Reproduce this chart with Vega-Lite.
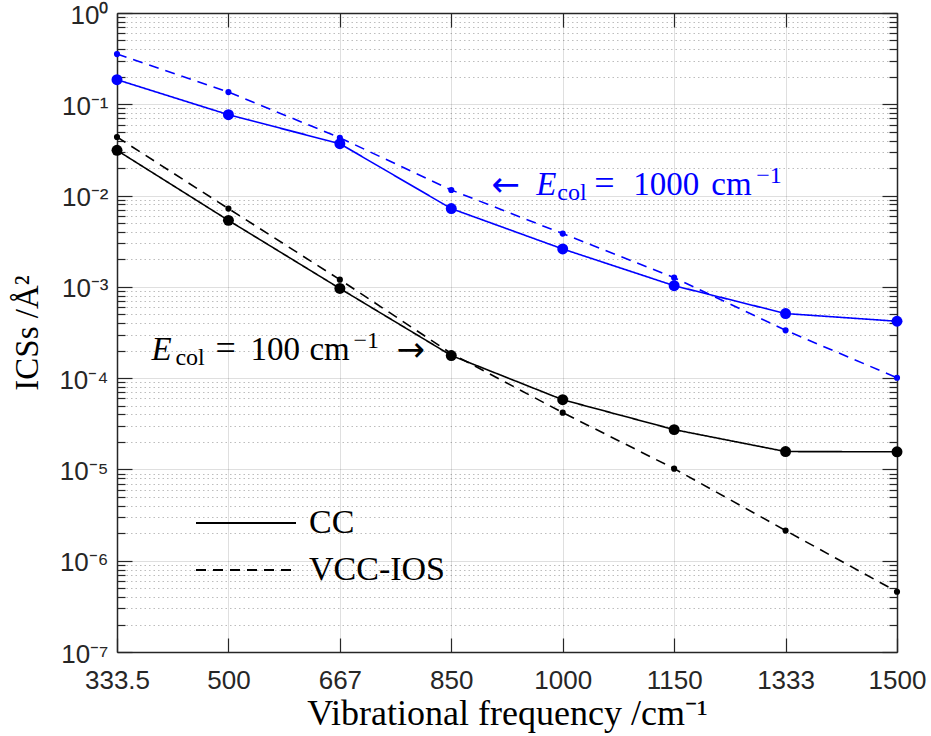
{
  "$schema": "https://vega.github.io/schema/vega-lite/v6.json",
  "width": 780,
  "height": 639,
  "autosize": {"type": "none"},
  "padding": {"left": 117, "top": 13, "right": 34, "bottom": 84},
  "background": "white",
  "datasets": {
    "series": [
      {"freq": 333.5, "method": "CC", "energy": "1000", "ics": 0.186},
      {"freq": 500, "method": "CC", "energy": "1000", "ics": 0.0769},
      {"freq": 667, "method": "CC", "energy": "1000", "ics": 0.037},
      {"freq": 850, "method": "CC", "energy": "1000", "ics": 0.0072},
      {"freq": 1000, "method": "CC", "energy": "1000", "ics": 0.0026},
      {"freq": 1150, "method": "CC", "energy": "1000", "ics": 0.00103},
      {"freq": 1333, "method": "CC", "energy": "1000", "ics": 0.00051},
      {"freq": 1500, "method": "CC", "energy": "1000", "ics": 0.00042},
      {"freq": 333.5, "method": "VCC-IOS", "energy": "1000", "ics": 0.355},
      {"freq": 500, "method": "VCC-IOS", "energy": "1000", "ics": 0.136},
      {"freq": 667, "method": "VCC-IOS", "energy": "1000", "ics": 0.043},
      {"freq": 850, "method": "VCC-IOS", "energy": "1000", "ics": 0.0115},
      {"freq": 1000, "method": "VCC-IOS", "energy": "1000", "ics": 0.00383},
      {"freq": 1150, "method": "VCC-IOS", "energy": "1000", "ics": 0.00126},
      {"freq": 1333, "method": "VCC-IOS", "energy": "1000", "ics": 0.000334},
      {"freq": 1500, "method": "VCC-IOS", "energy": "1000", "ics": 0.000101},
      {"freq": 333.5, "method": "CC", "energy": "100", "ics": 0.0313},
      {"freq": 500, "method": "CC", "energy": "100", "ics": 0.00535},
      {"freq": 667, "method": "CC", "energy": "100", "ics": 0.00096},
      {"freq": 850, "method": "CC", "energy": "100", "ics": 0.000177},
      {"freq": 1000, "method": "CC", "energy": "100", "ics": 0.000058},
      {"freq": 1150, "method": "CC", "energy": "100", "ics": 0.0000273},
      {"freq": 1333, "method": "CC", "energy": "100", "ics": 0.0000157},
      {"freq": 1500, "method": "CC", "energy": "100", "ics": 0.0000156},
      {"freq": 333.5, "method": "VCC-IOS", "energy": "100", "ics": 0.0438},
      {"freq": 500, "method": "VCC-IOS", "energy": "100", "ics": 0.0072},
      {"freq": 667, "method": "VCC-IOS", "energy": "100", "ics": 0.0012},
      {"freq": 850, "method": "VCC-IOS", "energy": "100", "ics": 0.000186},
      {"freq": 1000, "method": "VCC-IOS", "energy": "100", "ics": 0.0000419},
      {"freq": 1150, "method": "VCC-IOS", "energy": "100", "ics": 0.0000102},
      {"freq": 1333, "method": "VCC-IOS", "energy": "100", "ics": 0.00000214},
      {"freq": 1500, "method": "VCC-IOS", "energy": "100", "ics": 0.000000457}
    ],
    "notes": [
      {"id": "b_arrow", "freq": 850, "ics": 0.01015, "label": "←"},
      {"id": "b_E", "freq": 850, "ics": 0.01015, "label": "E"},
      {"id": "b_col", "freq": 850, "ics": 0.01015, "label": "col"},
      {"id": "b_eq", "freq": 850, "ics": 0.01015, "label": "="},
      {"id": "b_num", "freq": 850, "ics": 0.01015, "label": "1000"},
      {"id": "b_cm", "freq": 850, "ics": 0.01015, "label": "cm"},
      {"id": "b_exp", "freq": 850, "ics": 0.01015, "label": "−1"},
      {"id": "k_E", "freq": 500, "ics": 0.000158, "label": "E"},
      {"id": "k_col", "freq": 500, "ics": 0.000158, "label": "col"},
      {"id": "k_eq", "freq": 500, "ics": 0.000158, "label": "="},
      {"id": "k_num", "freq": 500, "ics": 0.000158, "label": "100"},
      {"id": "k_cm", "freq": 500, "ics": 0.000158, "label": "cm"},
      {"id": "k_exp", "freq": 500, "ics": 0.000158, "label": "−1"},
      {"id": "k_arrow", "freq": 500, "ics": 0.000158, "label": "→"}
    ]
  },
  "resolve": {
    "scale": {"x": "shared", "y": "shared"},
    "axis": {"x": "independent", "y": "independent"}
  },
  "layer": [
    {
      "data": {"name": "series"},
      "mark": {"type": "line", "strokeWidth": 1.6},
      "encoding": {
        "x": {
          "field": "freq", "type": "ordinal",
          "scale": {"type": "point", "padding": 0, "domain": [333.5, 500, 667, 850, 1000, 1150, 1333, 1500]},
          "axis": {
            "orient": "bottom",
            "title": "Vibrational frequency /cm⁻¹",
            "titleFontSize": 36,
            "titlePadding": 3,
            "labelFontSize": 26,
            "labelPadding": 29,
            "labelAngle": 0,
            "tickSize": -14,
            "grid": true,
            "gridColor": "#262626",
            "gridOpacity": 0.15,
            "gridWidth": 1
          }
        },
        "y": {
          "field": "ics", "type": "quantitative",
          "scale": {"type": "log", "domain": [1e-7, 1], "nice": false},
          "axis": {
            "orient": "left",
            "title": "ICSs /Å²",
            "titleFontSize": 33,
            "titlePadding": 14,
            "values": [1e-7, 2e-7, 3e-7, 4e-7, 5e-7, 6e-7, 7e-7, 8e-7, 9e-7, 1e-6, 2e-6, 3e-6, 4e-6, 5e-6, 6e-6, 7e-6, 8e-6, 9e-6, 1e-5, 2e-5, 3e-5, 4e-5, 5e-5, 6e-5, 7e-5, 8e-5, 9e-5, 1e-4, 2e-4, 3e-4, 4e-4, 5e-4, 6e-4, 7e-4, 8e-4, 9e-4, 0.001, 0.002, 0.003, 0.004, 0.005, 0.006, 0.007, 0.008, 0.009, 0.01, 0.02, 0.03, 0.04, 0.05, 0.06, 0.07, 0.08, 0.09, 0.1, 0.2, 0.3, 0.4, 0.5, 0.6, 0.7, 0.8, 0.9, 1],
            "labelExpr": "abs(log(datum.value)/LN10 - round(log(datum.value)/LN10)) < 0.001 ? '10' + ['⁰','⁻¹','⁻²','⁻³','⁻⁴','⁻⁵','⁻⁶','⁻⁷'][-round(log(datum.value)/LN10)] : ''",
            "labelOverlap": false,
            "labelFontSize": 26,
            "labelPadding": 24,
            "labelOffset": 2,
            "tickSize": {"condition": {"test": "abs(log(datum.value)/LN10 - round(log(datum.value)/LN10)) < 0.001", "value": -15}, "value": -8},
            "grid": true,
            "gridColor": "#262626",
            "gridOpacity": {"condition": {"test": "abs(log(datum.value)/LN10 - round(log(datum.value)/LN10)) < 0.001", "value": 0.15}, "value": 0.3},
            "gridDash": {"condition": {"test": "abs(log(datum.value)/LN10 - round(log(datum.value)/LN10)) < 0.001", "value": []}, "value": [1.5, 3]}
          }
        },
        "color": {"field": "energy", "type": "nominal", "scale": {"domain": ["1000", "100"], "range": ["#0000ff", "#000000"]}, "legend": null},
        "strokeDash": {
          "field": "method", "type": "nominal",
          "scale": {"domain": ["CC", "VCC-IOS"], "range": [[1, 0], [10, 7]]},
          "legend": {
            "orient": "none",
            "legendX": 78,
            "legendY": 492,
            "title": null,
            "padding": 0,
            "symbolType": "stroke",
            "symbolSize": 10000,
            "symbolStrokeColor": "black",
            "symbolStrokeWidth": 1.8,
            "labelFont": "Liberation Serif",
            "labelFontSize": 34,
            "labelColor": "black",
            "labelOffset": 12,
            "clipHeight": 36,
            "rowPadding": 11
          }
        }
      }
    },
    {
      "data": {"name": "series"},
      "transform": [{"filter": "datum.method == 'CC'"}],
      "mark": {"type": "point", "filled": true, "opacity": 1, "size": 120},
      "encoding": {
        "x": {
          "field": "freq", "type": "ordinal",
          "scale": {"type": "point", "padding": 0, "domain": [333.5, 500, 667, 850, 1000, 1150, 1333, 1500]},
          "axis": {"orient": "top", "title": null, "labels": false, "tickSize": -14, "grid": false}
        },
        "y": {
          "field": "ics", "type": "quantitative",
          "scale": {"type": "log", "domain": [1e-7, 1], "nice": false},
          "axis": {
            "orient": "right",
            "title": null,
            "labels": false,
            "grid": false,
            "values": [1e-7, 2e-7, 3e-7, 4e-7, 5e-7, 6e-7, 7e-7, 8e-7, 9e-7, 1e-6, 2e-6, 3e-6, 4e-6, 5e-6, 6e-6, 7e-6, 8e-6, 9e-6, 1e-5, 2e-5, 3e-5, 4e-5, 5e-5, 6e-5, 7e-5, 8e-5, 9e-5, 1e-4, 2e-4, 3e-4, 4e-4, 5e-4, 6e-4, 7e-4, 8e-4, 9e-4, 0.001, 0.002, 0.003, 0.004, 0.005, 0.006, 0.007, 0.008, 0.009, 0.01, 0.02, 0.03, 0.04, 0.05, 0.06, 0.07, 0.08, 0.09, 0.1, 0.2, 0.3, 0.4, 0.5, 0.6, 0.7, 0.8, 0.9, 1],
            "tickSize": {"condition": {"test": "abs(log(datum.value)/LN10 - round(log(datum.value)/LN10)) < 0.001", "value": -15}, "value": -8}
          }
        },
        "color": {"field": "energy", "type": "nominal", "scale": {"domain": ["1000", "100"], "range": ["#0000ff", "#000000"]}, "legend": null}
      }
    },
    {
      "data": {"name": "series"},
      "transform": [{"filter": "datum.method == 'VCC-IOS'"}],
      "mark": {"type": "point", "filled": true, "opacity": 1, "size": 38},
      "encoding": {
        "x": {"field": "freq", "type": "ordinal", "scale": {"type": "point", "padding": 0, "domain": [333.5, 500, 667, 850, 1000, 1150, 1333, 1500]}, "axis": null},
        "y": {"field": "ics", "type": "quantitative", "scale": {"type": "log", "domain": [1e-7, 1], "nice": false}, "axis": null},
        "color": {"field": "energy", "type": "nominal", "scale": {"domain": ["1000", "100"], "range": ["#0000ff", "#000000"]}, "legend": null}
      }
    },
    {
      "data": {"name": "notes"},
      "encoding": {
        "x": {"field": "freq", "type": "ordinal", "scale": {"type": "point", "padding": 0, "domain": [333.5, 500, 667, 850, 1000, 1150, 1333, 1500]}, "axis": null},
        "y": {"field": "ics", "type": "quantitative", "scale": {"type": "log", "domain": [1e-7, 1], "nice": false}, "axis": null},
        "text": {"field": "label", "type": "nominal"}
      },
      "layer": [
        {"transform": [{"filter": "datum.id == 'b_arrow'"}], "mark": {"type": "text", "align": "left", "baseline": "alphabetic", "font": "DejaVu Sans", "fontSize": 34, "color": "#0000ff", "dx": 40, "dy": 1}},
        {"transform": [{"filter": "datum.id == 'b_E'"}], "mark": {"type": "text", "align": "left", "baseline": "alphabetic", "font": "Liberation Serif", "fontStyle": "italic", "fontSize": 33, "color": "#0000ff", "dx": 85}},
        {"transform": [{"filter": "datum.id == 'b_col'"}], "mark": {"type": "text", "align": "left", "baseline": "alphabetic", "font": "Liberation Serif", "fontSize": 24, "color": "#0000ff", "dx": 106, "dy": 5}},
        {"transform": [{"filter": "datum.id == 'b_eq'"}], "mark": {"type": "text", "align": "left", "baseline": "alphabetic", "font": "Liberation Serif", "fontSize": 36, "color": "#0000ff", "dx": 143}},
        {"transform": [{"filter": "datum.id == 'b_num'"}], "mark": {"type": "text", "align": "left", "baseline": "alphabetic", "font": "Liberation Serif", "fontSize": 33, "color": "#0000ff", "dx": 182}},
        {"transform": [{"filter": "datum.id == 'b_cm'"}], "mark": {"type": "text", "align": "left", "baseline": "alphabetic", "font": "Liberation Serif", "fontSize": 33, "color": "#0000ff", "dx": 260}},
        {"transform": [{"filter": "datum.id == 'b_exp'"}], "mark": {"type": "text", "align": "left", "baseline": "alphabetic", "font": "Liberation Serif", "fontSize": 24, "color": "#0000ff", "dx": 305, "dy": -12}},
        {"transform": [{"filter": "datum.id == 'k_E'"}], "mark": {"type": "text", "align": "left", "baseline": "alphabetic", "font": "Liberation Serif", "fontStyle": "italic", "fontSize": 33, "color": "black", "dx": -77}},
        {"transform": [{"filter": "datum.id == 'k_col'"}], "mark": {"type": "text", "align": "left", "baseline": "alphabetic", "font": "Liberation Serif", "fontSize": 24, "color": "black", "dx": -53, "dy": 5}},
        {"transform": [{"filter": "datum.id == 'k_eq'"}], "mark": {"type": "text", "align": "left", "baseline": "alphabetic", "font": "Liberation Serif", "fontSize": 36, "color": "black", "dx": -13}},
        {"transform": [{"filter": "datum.id == 'k_num'"}], "mark": {"type": "text", "align": "left", "baseline": "alphabetic", "font": "Liberation Serif", "fontSize": 33, "color": "black", "dx": 22}},
        {"transform": [{"filter": "datum.id == 'k_cm'"}], "mark": {"type": "text", "align": "left", "baseline": "alphabetic", "font": "Liberation Serif", "fontSize": 33, "color": "black", "dx": 81}},
        {"transform": [{"filter": "datum.id == 'k_exp'"}], "mark": {"type": "text", "align": "left", "baseline": "alphabetic", "font": "Liberation Serif", "fontSize": 24, "color": "black", "dx": 125, "dy": -12}},
        {"transform": [{"filter": "datum.id == 'k_arrow'"}], "mark": {"type": "text", "align": "left", "baseline": "alphabetic", "font": "DejaVu Sans", "fontSize": 34, "color": "black", "dx": 168, "dy": 1}}
      ]
    }
  ],
  "config": {
    "view": {"stroke": null},
    "axis": {
      "domainColor": "#262626",
      "domainWidth": 1.5,
      "tickColor": "#262626",
      "tickWidth": 1.2,
      "labelColor": "#262626",
      "labelFont": "Liberation Sans",
      "titleFont": "Liberation Serif",
      "titleFontWeight": "normal",
      "titleColor": "black"
    }
  }
}
